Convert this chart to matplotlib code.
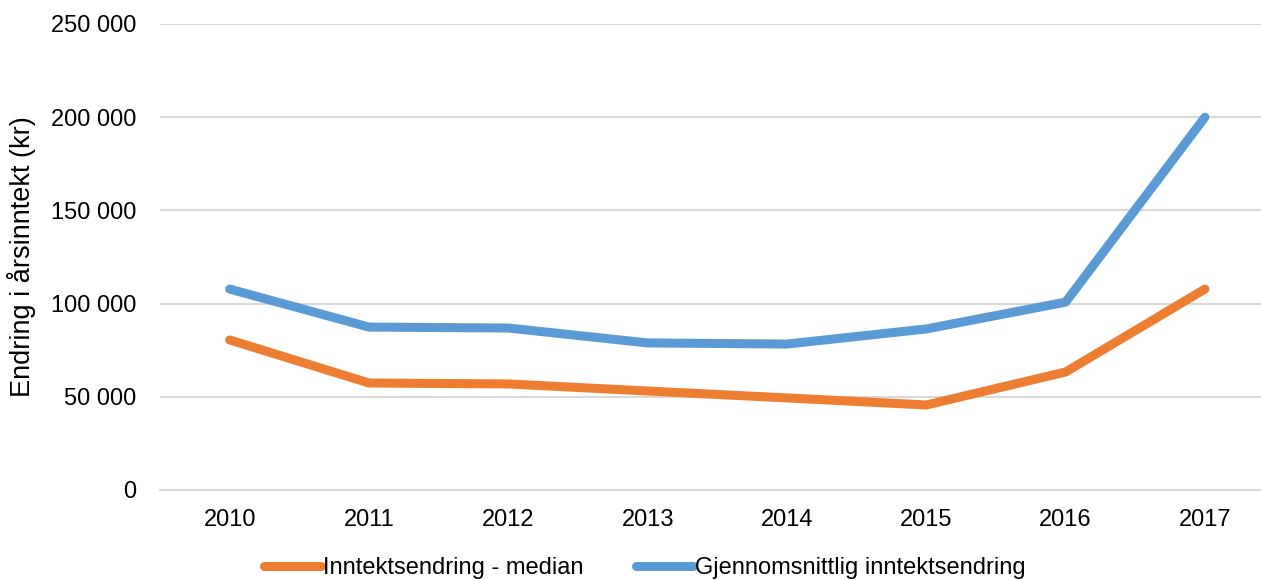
import matplotlib.pyplot as plt
from matplotlib.ticker import FuncFormatter

years = ["2010", "2011", "2012", "2013", "2014", "2015", "2016", "2017"]
median = [80500, 57400, 56900, 53100, 49400, 45600, 63300, 107800]
mean = [107800, 87400, 86900, 78900, 78300, 86400, 100800, 200000]

plt.rcParams['font.family'] = ['Liberation Sans', 'DejaVu Sans']
plt.rcParams['font.size'] = 17

fig = plt.figure(figsize=(12.61, 5.8), dpi=100)
# plot area runs past the right edge, like the reference crop
ax = fig.add_axes([160 / 1261, 90 / 580, 1114.6 / 1261, 466 / 580])

x = range(len(years))
ax.plot(x, median, color='#ED7D31', lw=6.5, solid_capstyle='round',
        solid_joinstyle='round', label='Inntektsendring - median', zorder=3)
ax.plot(x, mean, color='#5B9BD5', lw=6.5, solid_capstyle='round',
        solid_joinstyle='round', label='Gjennomsnittlig inntektsendring', zorder=3)

ax.set_xlim(-0.5, len(years) - 0.5)
ax.set_ylim(0, 250000)
ax.set_yticks(range(0, 250001, 50000))
ax.yaxis.set_major_formatter(FuncFormatter(lambda v, p: f"{int(v):,}".replace(",", " ")))
ax.set_xticks(list(x))
ax.set_xticklabels(years)

ax.grid(axis='y', color='#d9d9d9', lw=1.5)
ax.set_axisbelow(True)
for s in ['top', 'right', 'left']:
    ax.spines[s].set_visible(False)
ax.spines['bottom'].set_color('#d9d9d9')
ax.spines['bottom'].set_linewidth(1.5)
ax.tick_params(axis='both', length=0, colors='black')
ax.tick_params(axis='y', pad=17)
ax.tick_params(axis='x', pad=14)

fig.text(22 / 1261, 0.557, 'Endring i årsinntekt (kr)', rotation=90,
         ha='center', va='center', fontsize=19.5)

fig.legend(loc='center', bbox_to_anchor=(645 / 1261, 12 / 580), ncol=2,
           frameon=False, handlelength=2.4, handletextpad=0.1,
           columnspacing=2.2, fontsize=17)

fig.savefig('out.png', dpi=100)
